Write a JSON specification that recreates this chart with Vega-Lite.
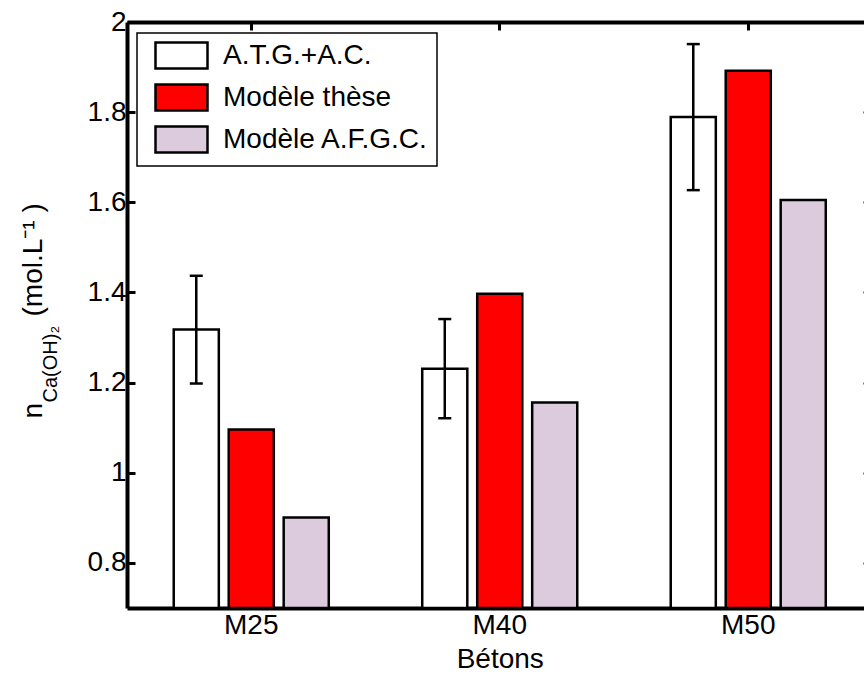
{
  "$schema": "https://vega.github.io/schema/vega-lite/v6.json",
  "width": 737,
  "height": 586,
  "autosize": {"type": "none"},
  "padding": {"left": 127, "top": 22, "right": 0, "bottom": 67},
  "background": "white",
  "config": {
    "view": {"stroke": null},
    "font": "Liberation Sans",
    "axis": {
      "labelFont": "Liberation Sans",
      "titleFont": "Liberation Sans",
      "labelColor": "black",
      "titleColor": "black",
      "domainColor": "black",
      "tickColor": "black",
      "titleFontWeight": "normal",
      "grid": false
    }
  },
  "data": {
    "values": [
      {"beton": "M25", "serie": "A.T.G.+A.C.", "value": 1.318, "lo": 1.198, "hi": 1.437},
      {"beton": "M25", "serie": "Modèle thèse", "value": 1.096, "lo": null, "hi": null},
      {"beton": "M25", "serie": "Modèle A.F.G.C.", "value": 0.901, "lo": null, "hi": null},
      {"beton": "M40", "serie": "A.T.G.+A.C.", "value": 1.231, "lo": 1.121, "hi": 1.341},
      {"beton": "M40", "serie": "Modèle thèse", "value": 1.397, "lo": null, "hi": null},
      {"beton": "M40", "serie": "Modèle A.F.G.C.", "value": 1.156, "lo": null, "hi": null},
      {"beton": "M50", "serie": "A.T.G.+A.C.", "value": 1.789, "lo": 1.627, "hi": 1.951},
      {"beton": "M50", "serie": "Modèle thèse", "value": 1.892, "lo": null, "hi": null},
      {"beton": "M50", "serie": "Modèle A.F.G.C.", "value": 1.605, "lo": null, "hi": null}
    ]
  },
  "resolve": {"axis": {"x": "independent", "y": "independent"}},
  "layer": [
    {
      "mark": {"type": "bar", "stroke": "black", "strokeWidth": 2.5, "clip": true},
      "encoding": {
        "x": {
          "field": "beton", "type": "nominal",
          "scale": {"type": "band", "domain": ["M25", "M40", "M50"], "range": [0, 745.5], "paddingInner": 0, "paddingOuter": 0},
          "axis": {"orient": "bottom", "title": "Bétons", "labelAngle": 0, "labelFontSize": 28, "titleFontSize": 28, "domainWidth": 4, "tickSize": -8, "tickWidth": 3, "labelPadding": 11, "titlePadding": 6}
        },
        "xOffset": {
          "field": "serie", "type": "nominal",
          "scale": {"domain": ["A.T.G.+A.C.", "Modèle thèse", "Modèle A.F.G.C."], "paddingInner": 0.18, "paddingOuter": 0.85}
        },
        "y": {
          "field": "value", "type": "quantitative",
          "scale": {"domain": [0.7, 2], "nice": false, "zero": false},
          "axis": {"orient": "left", "values": [0.8, 1, 1.2, 1.4, 1.6, 1.8, 2], "format": "~g", "labelFontSize": 28, "tickSize": -8, "tickWidth": 3, "domainWidth": 4, "labelPadding": 9, "title": "n", "titleFontSize": 28, "titleAngle": 270, "titleX": -86, "titleY": 396, "titleAlign": "left", "titleBaseline": "alphabetic"}
        },
        "y2": {"datum": 0.7},
        "fill": {
          "field": "serie", "type": "nominal",
          "scale": {"domain": ["A.T.G.+A.C.", "Modèle thèse", "Modèle A.F.G.C."], "range": ["#ffffff", "#ff0000", "#dccadd"]},
          "legend": {
            "orient": "none", "legendX": 10, "legendY": 11, "title": null,
            "symbolType": "M-1,-1H3V1H-1Z", "symbolSize": 676,
            "symbolStrokeColor": "black", "symbolStrokeWidth": 2.5, "symbolOpacity": 1,
            "labelFontSize": 28, "labelFont": "Liberation Sans", "labelColor": "black", "labelLimit": 400,
            "labelOffset": 40, "symbolOffset": 9, "padding": 8, "rowPadding": 5,
            "fillColor": "white", "strokeColor": "black",
            "encode": {"legend": {"update": {"strokeWidth": {"value": 1.5}}}}
          }
        }
      }
    },
    {
      "transform": [{"filter": "datum.lo != null"}],
      "mark": {"type": "rule", "strokeWidth": 2.5, "color": "black"},
      "encoding": {
        "x": {"field": "beton", "type": "nominal", "axis": {"orient": "top", "labels": false, "title": null, "domainWidth": 4, "tickSize": -8, "tickWidth": 3}},
        "xOffset": {"field": "serie", "type": "nominal"},
        "y": {"field": "lo", "type": "quantitative", "axis": {"orient": "left", "labels": false, "ticks": false, "domain": false, "title": "Ca(OH)₂", "titleFontSize": 20, "titleAngle": 270, "titleX": -71, "titleY": 380, "titleAlign": "left", "titleBaseline": "alphabetic"}},
        "y2": {"field": "hi"}
      }
    },
    {
      "transform": [{"filter": "datum.lo != null"}],
      "mark": {"type": "tick", "orient": "horizontal", "size": 13, "thickness": 2.5, "color": "black", "opacity": 1},
      "encoding": {
        "x": {"field": "beton", "type": "nominal", "axis": null},
        "xOffset": {"field": "serie", "type": "nominal"},
        "y": {"field": "lo", "type": "quantitative", "axis": {"orient": "left", "labels": false, "ticks": false, "domain": false, "title": "(mol.L⁻¹ )", "titleFontSize": 28, "titleAngle": 270, "titleX": -86, "titleY": 294, "titleAlign": "left", "titleBaseline": "alphabetic"}}
      }
    },
    {
      "transform": [{"filter": "datum.hi != null"}],
      "mark": {"type": "tick", "orient": "horizontal", "size": 13, "thickness": 2.5, "color": "black", "opacity": 1},
      "encoding": {
        "x": {"field": "beton", "type": "nominal", "axis": null},
        "xOffset": {"field": "serie", "type": "nominal"},
        "y": {"field": "hi", "type": "quantitative", "axis": {"orient": "right", "offset": 8, "labels": false, "title": null, "domainWidth": 4, "tickSize": -9, "tickWidth": 2, "values": [0.8, 1, 1.2, 1.4, 1.6, 1.8, 2]}}
      }
    }
  ]
}
